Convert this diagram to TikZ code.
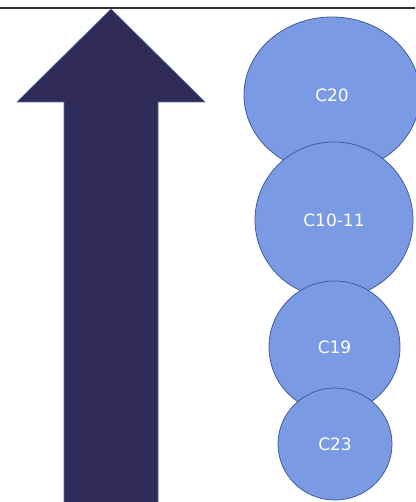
\documentclass[tikz,border=0pt]{standalone}
\usepackage{fontspec}
\setmainfont{DejaVu Sans}
\usepackage{xcolor}
\usepackage{tikz}
\usetikzlibrary{shapes.geometric, positioning}
\definecolor{arrownavy}{HTML}{2F2A58}
\definecolor{arrowedge}{HTML}{4F6BA8}
\definecolor{bubblefill}{HTML}{7A9BE4}
\definecolor{bubbleedge}{HTML}{3F5C9C}
\definecolor{rulegray}{HTML}{333333}

\begin{document}
\begin{tikzpicture}[
    x=1pt, y=-1pt,
    bubble/.style={ellipse, draw=bubbleedge, fill=bubblefill, line width=0.8pt, inner sep=0pt, text=white, font=\fontsize{17}{19}\selectfont},
  ]
  \useasboundingbox (0,0) rectangle (415,502);

  % Top rule
  \coordinate (ruleL) at (0,8.5);
  \coordinate (ruleR) at (415,8.5);
  \draw[rulegray, line width=2pt] (ruleL) -- (ruleR);

  % Big arrow
  \fill[arrownavy, draw=arrowedge, line width=0.6pt]
    (111,9) -- (205,102) -- (158,102) -- (158,505) -- (64,505) -- (64,102) -- (17,102) -- cycle;

  % Nodes
  \node[bubble, minimum width=176pt, minimum height=156pt] (c20) at (332,95) {C20};
  \node[bubble, minimum width=158pt, minimum height=156pt] (c1011) at (334,220) {C10-11};
  \node[bubble, minimum width=131pt, minimum height=132pt] (c19) at (334.5,347) {C19};
  \node[bubble, minimum width=114pt, minimum height=112pt] (c23) at (335,444) {C23};
\end{tikzpicture}
\end{document}
